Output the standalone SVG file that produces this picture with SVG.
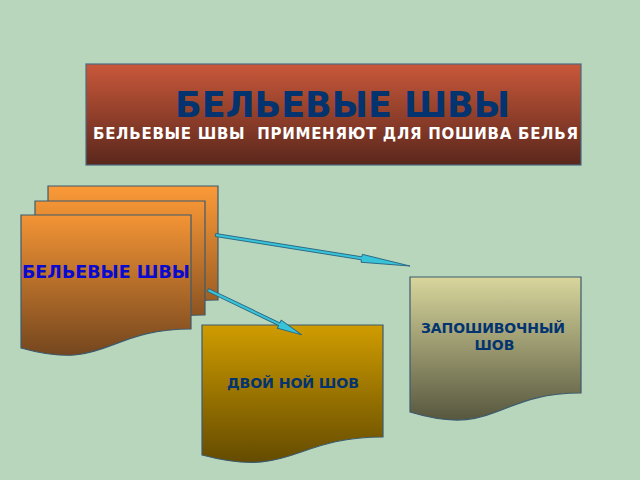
<svg xmlns="http://www.w3.org/2000/svg" width="640" height="480" viewBox="0 0 640 480">
<defs>
<linearGradient id="gTitle" x1="0" y1="0" x2="0" y2="1"><stop offset="0" stop-color="#c9583a"/><stop offset="1" stop-color="#5a271c"/></linearGradient>
<linearGradient id="gOrange" x1="0" y1="0" x2="0" y2="1"><stop offset="0" stop-color="#f39435"/><stop offset="1" stop-color="#74461e"/></linearGradient>
<linearGradient id="gOrangeB" x1="0" y1="0" x2="0" y2="1"><stop offset="0" stop-color="#fb9a38"/><stop offset="1" stop-color="#8a521f"/></linearGradient>
<linearGradient id="gOlive" x1="0" y1="0" x2="0" y2="1"><stop offset="0" stop-color="#d8d69c"/><stop offset="1" stop-color="#57573f"/></linearGradient>
<linearGradient id="gGold" x1="0" y1="0" x2="0" y2="1"><stop offset="0" stop-color="#cf9c00"/><stop offset="1" stop-color="#644b00"/></linearGradient>
</defs>
<style>
.doc{stroke:#3c5a6e;stroke-width:1.2}
.lbl{font-family:"DejaVu Sans","Liberation Sans",sans-serif;font-weight:bold}
.arr{fill:#38c4d8;stroke:#2b6684;stroke-width:0.9}
</style>
<rect width="640" height="480" fill="#b8d6bb"/>
<g id="title">
<rect x="86" y="64" width="495" height="101" fill="url(#gTitle)" stroke="#4a6a80" stroke-width="1.2"/>
<text class="lbl" x="175" y="117" font-size="35" fill="#033470" textLength="335" lengthAdjust="spacing">БЕЛЬЕВЫЕ ШВЫ</text>
<text class="lbl" x="93" y="139" font-size="15" fill="#ffffff" textLength="485" lengthAdjust="spacing" xml:space="preserve">БЕЛЬЕВЫЕ ШВЫ  ПРИМЕНЯЮТ ДЛЯ ПОШИВА БЕЛЬЯ</text>
</g>
<g id="doc-stack">
<path class="doc" fill="url(#gOrangeB)" d="M48 186 H218 V300 C133 300 133 343 48 318 Z"/>
<path class="doc" fill="url(#gOrange)" d="M35 201 H205 V315 C120 315 120 358 35 333 Z"/>
<path class="doc" fill="url(#gOrange)" d="M21 215 H191 V329 C106 329 106 372 21 348 Z"/>
<text class="lbl" x="22" y="278" font-size="17.5" fill="#0a0ad0" textLength="168" lengthAdjust="spacing">БЕЛЬЕВЫЕ ШВЫ</text>
</g>
<g id="doc-zaposh">
<path class="doc" fill="url(#gOlive)" d="M410 277 H581 V393 C495.5 393 495.5 438 410 412 Z"/>
<text class="lbl" x="421" y="333" font-size="14" fill="#033470" textLength="144" lengthAdjust="spacing">ЗАПОШИВОЧНЫЙ</text>
<text class="lbl" x="494.5" y="350" font-size="14" fill="#033470" text-anchor="middle">ШОВ</text>
</g>
<g id="doc-dvoy">
<path class="doc" fill="url(#gGold)" d="M202 325 H383 V437 C292.5 437 292.5 479 202 455 Z"/>
<text class="lbl" x="227" y="388" font-size="14.2" fill="#033470" textLength="132" lengthAdjust="spacing">ДВОЙ НОЙ ШОВ</text>
</g>
<g id="connectors">
<polygon class="arr" transform="translate(215.5,235) rotate(9.06)" points="0,-1.5 148,-1.5 148,-4 197,0 148,4 148,1.5 0,1.5"/>
<polygon class="arr" transform="translate(208,290) rotate(25.6)" points="0,-1.5 79,-1.5 79,-4.5 104,0 79,4.5 79,1.5 0,1.5"/>
</g>
</svg>
